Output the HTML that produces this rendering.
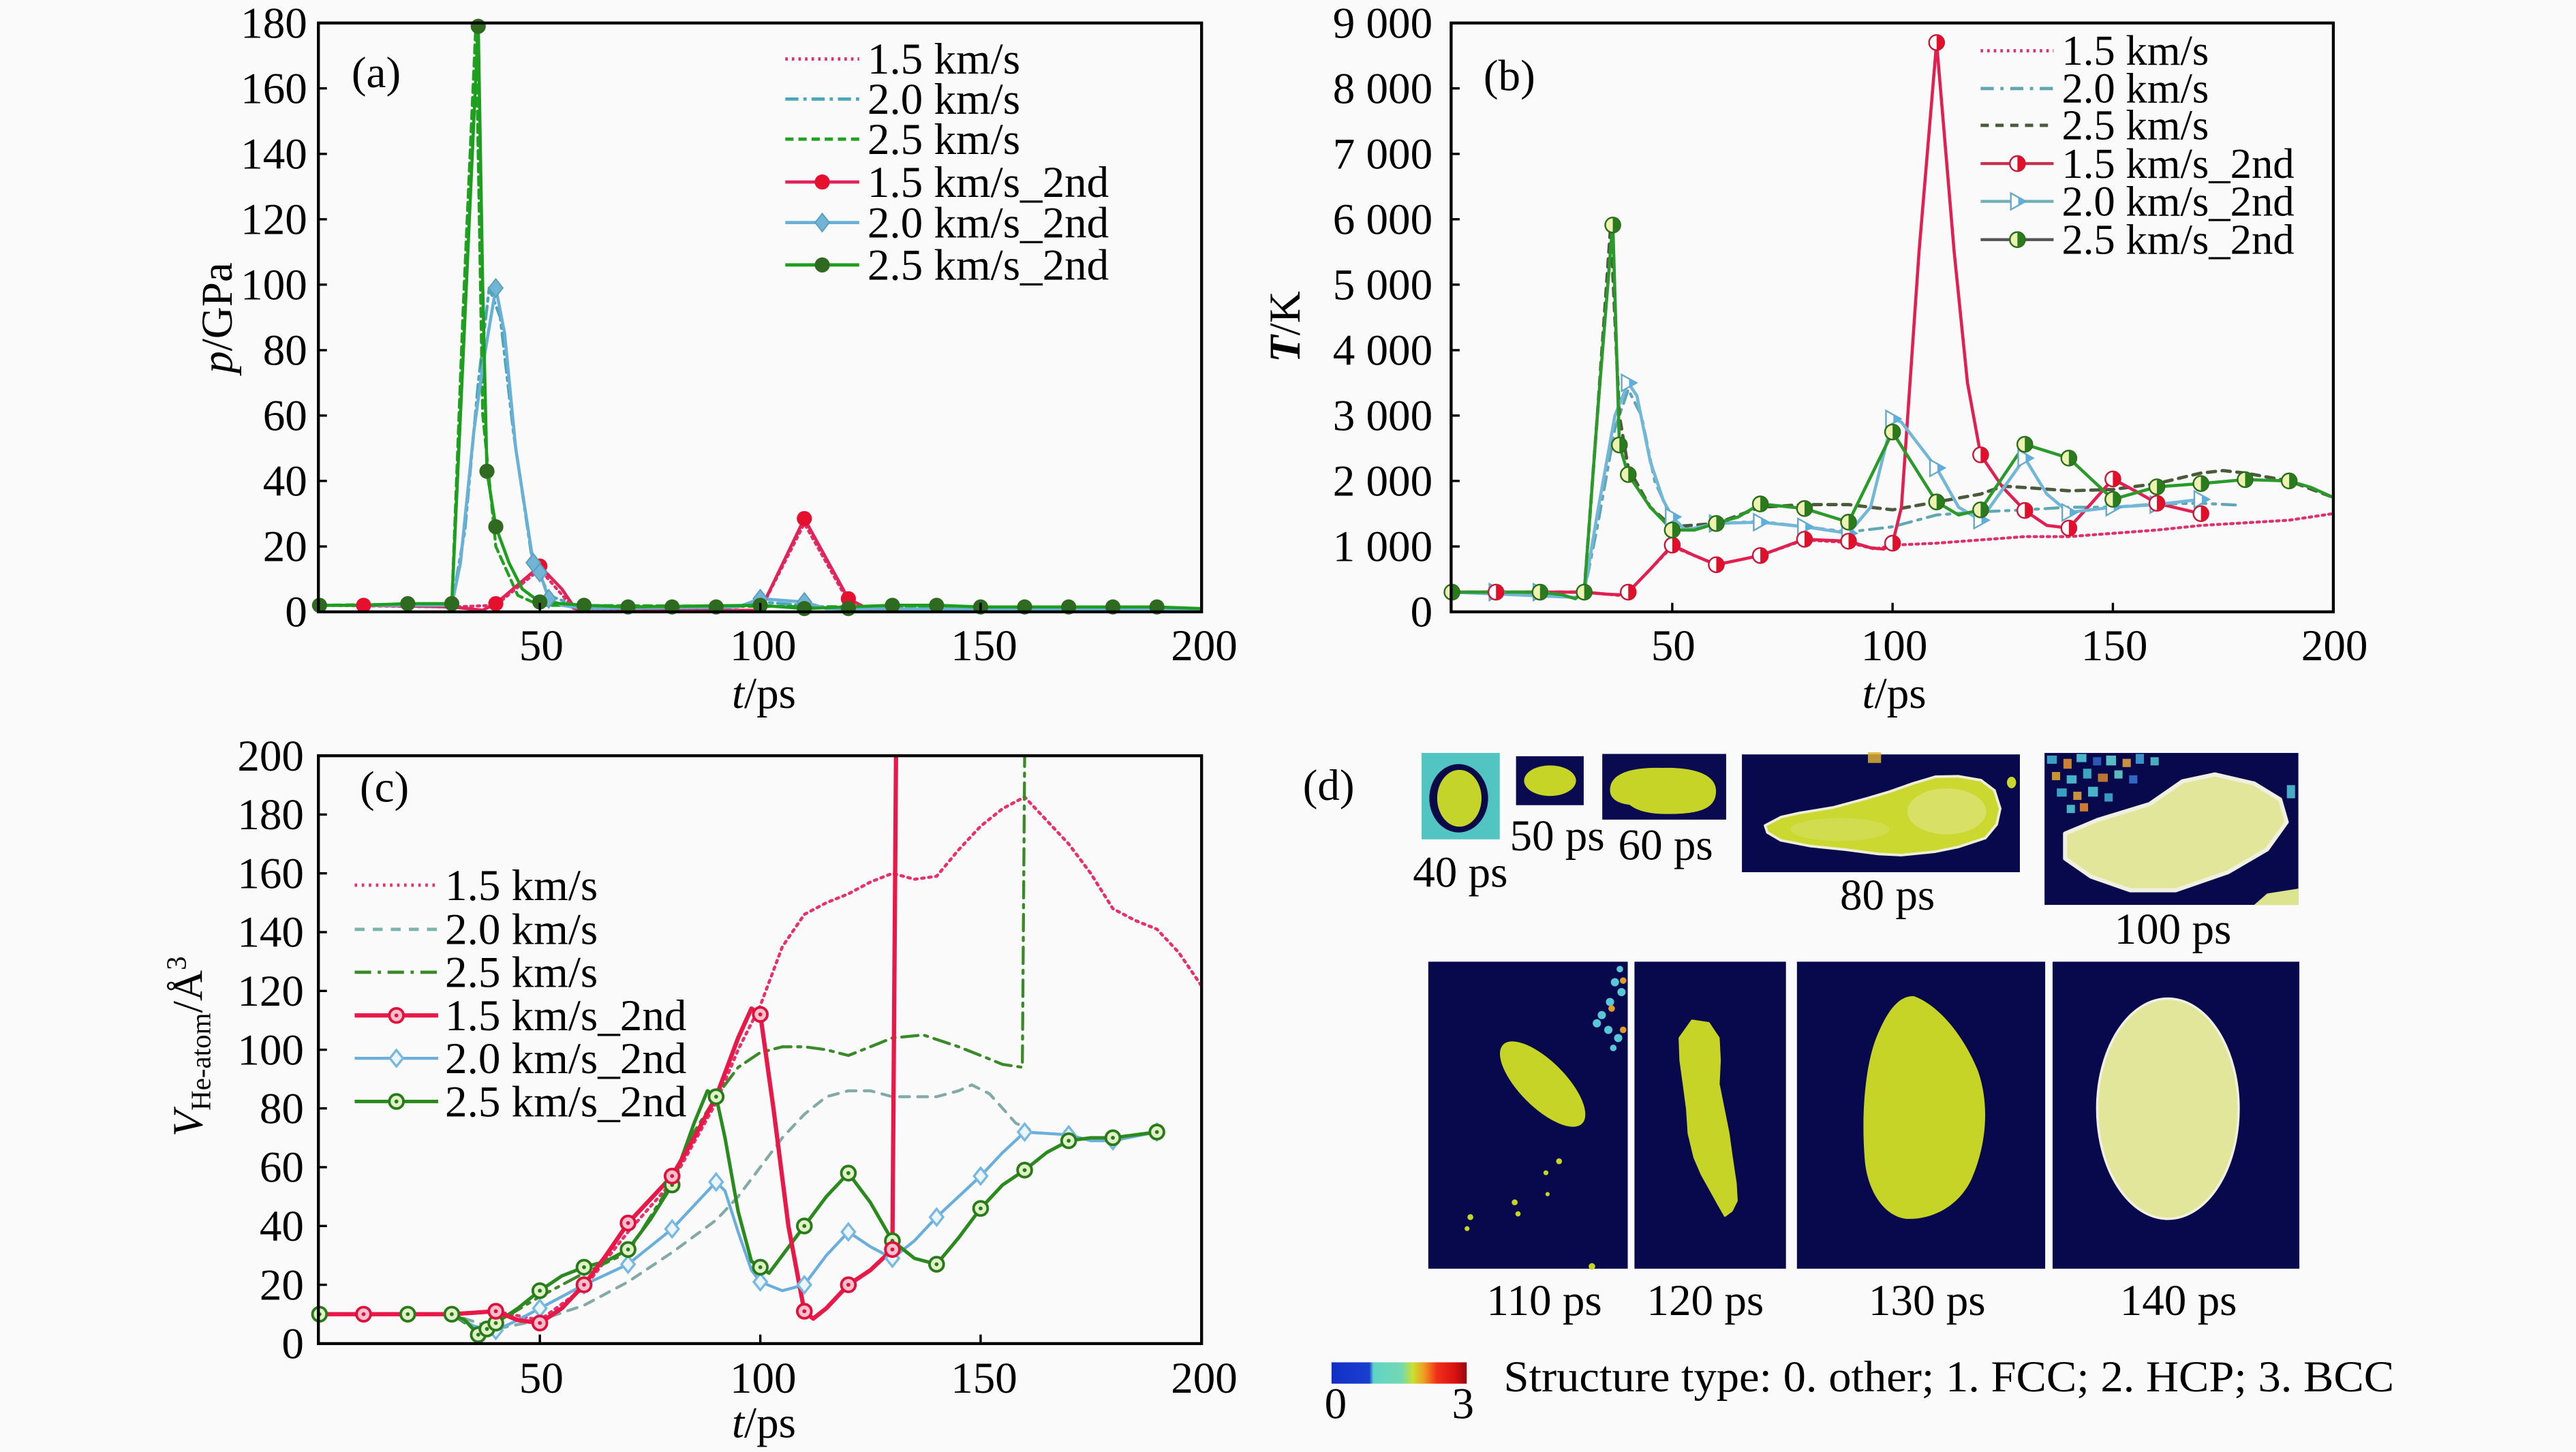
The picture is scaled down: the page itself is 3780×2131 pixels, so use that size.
<!DOCTYPE html>
<html><head><meta charset="utf-8"><style>
html,body{margin:0;padding:0;background:#fafafa;}
svg{display:block;}
text{font-family:"Liberation Serif",serif;font-size:27px;fill:#000;}
</style></head><body>
<svg xmlns="http://www.w3.org/2000/svg" width="3780" height="2131" viewBox="0 0 1568 884" preserveAspectRatio="none">
<defs>
<g id="maR"><circle r="4.6" fill="#e5102e"/></g>
<g id="maG"><circle r="4.6" fill="#2e6a1f"/></g>
<g id="maB"><path d="M0,-5.5 L4.3,0 L0,5.5 L-4.3,0Z" fill="#72b4d4" stroke="#5a9ec0" stroke-width="0.8"/></g>
<g id="mbR"><circle r="4.6" fill="#fff" stroke="#c81838" stroke-width="1"/><path d="M0,-4.6 A4.6,4.6 0 0 1 0,4.6Z" fill="#e0102a"/></g>
<g id="mbG"><circle r="4.6" fill="#eef2b0" stroke="#2a6a1a" stroke-width="1"/><path d="M0,-4.6 A4.6,4.6 0 0 1 0,4.6Z" fill="#2a7a1e"/></g>
<g id="mbB"><path d="M-4,-5 L5,0 L-4,5Z" fill="#fff" stroke="#6aa8c8" stroke-width="1"/><path d="M0.5,-2.5 L5,0 L0.5,2.5Z" fill="#5aaee0"/></g>
<g id="mcR"><circle r="4.3" fill="#f6c0cc" stroke="#e0103c" stroke-width="1.6"/><circle r="1.2" fill="#e0103c"/></g>
<g id="mcB"><path d="M0,-5 L4,0 L0,5 L-4,0Z" fill="#eaf6fc" stroke="#78b8e0" stroke-width="1.4"/></g>
<g id="mcG"><circle r="4.3" fill="#e0f2c8" stroke="#2a7a1a" stroke-width="1.6"/><circle r="1.2" fill="#2a7a1a"/></g>
<linearGradient id="cb" x1="0" x2="1" y1="0" y2="0">
<stop offset="0" stop-color="#1230c4"/><stop offset="0.28" stop-color="#1a40d0"/>
<stop offset="0.31" stop-color="#60d4c8"/><stop offset="0.52" stop-color="#74d8b0"/>
<stop offset="0.6" stop-color="#c8e030"/><stop offset="0.68" stop-color="#f0a020"/>
<stop offset="0.78" stop-color="#f03018"/><stop offset="0.92" stop-color="#d81010"/>
<stop offset="1" stop-color="#900810"/></linearGradient>
<clipPath id="ca"><rect x="193.8" y="14" width="537.6" height="358.5"/></clipPath>
<clipPath id="cbx"><rect x="883.3" y="14" width="537" height="358.5"/></clipPath>
<clipPath id="cc"><rect x="193.8" y="460.1" width="537.6" height="357.9"/></clipPath>
</defs>
<rect x="0" y="0" width="1568" height="884" fill="#fafafa"/>

<!-- ================= Panel (a) ================= -->
<g clip-path="url(#ca)" fill="none" stroke-linejoin="round" stroke-linecap="round">
<polyline points="194.5,368.5 275,369.5 301.8,368.5 328.6,346.6 350.1,371.5 462.8,371.5 489.6,318.7 516.4,366.5 529.8,372 731,372.5" stroke="#e0306a" stroke-width="1.8" stroke-dasharray="1.5,2.5"/>
<polyline points="194.5,368.5 275,368.5 283,322.7 291.1,233.1 297.8,175.3 304.5,193.2 312.5,263 323.3,336.6 334,362.5 355.5,370.5 440,370.5 462.8,366.5 489.6,368.5 516.4,371.5 731,371.5" stroke="#4aa6b8" stroke-width="1.8" stroke-dasharray="8,3,2,3"/>
<polyline points="194.5,368.5 275,367.5 281.7,193.2 289.7,14 293.8,252 301.8,332.7 315.2,362.5 328.6,368.5 731,370.5" stroke="#22a022" stroke-width="1.8" stroke-dasharray="5,3"/>
<polyline points="194.5,368.5 221.3,368.5 275,369.5 293.8,371.5 301.8,367.5 328.6,344.6 342,358.6 350.1,370.5 355.5,372.5 462.8,371.5 489.6,315.7 516.4,364.5 529.8,371.5 731,372.5" stroke="#e0245a" stroke-width="1.9"/>
<polyline points="194.5,368.5 275,368.5 280.3,342.6 288.4,262.9 293.8,223.1 301.8,175.3 307.2,203.2 313.9,272.9 324.6,342.6 328.6,348.6 334,364.5 342,368.5 355.5,370.5 449.3,369.5 462.8,364.5 489.6,366.5 503,370.5 731,371.5" stroke="#6ab0d6" stroke-width="1.9"/>
<polyline points="194.5,368.5 221.3,368.5 248.2,367.5 275,367.5 283,193.2 291.1,14 293.8,173.3 296.4,286.9 301.8,320.7 309.8,342.6 317.9,358.6 328.6,366.5 355.5,368.5 382.3,369.5 462.8,368.5 489.6,370.5 543.2,368.5 570.1,368.5 596.9,369.5 704.2,369.5 731,370.5" stroke="#1e9e1e" stroke-width="1.9"/>
</g>
<g>
<use href="#maR" x="221.3" y="368.5"/><use href="#maR" x="301.8" y="367.5"/><use href="#maR" x="328.6" y="344.6"/><use href="#maR" x="489.6" y="315.7"/><use href="#maR" x="516.4" y="364.5"/>
<use href="#maB" x="301.8" y="175.3"/><use href="#maB" x="324.6" y="342.6"/><use href="#maB" x="328.6" y="348.6"/><use href="#maB" x="334" y="364.5"/><use href="#maB" x="462.8" y="364.5"/><use href="#maB" x="489.6" y="366.5"/>
<use href="#maG" x="194.5" y="368.5"/><use href="#maG" x="248.2" y="367.5"/><use href="#maG" x="275" y="367.5"/><use href="#maG" x="291.1" y="16"/><use href="#maG" x="296.4" y="286.9"/><use href="#maG" x="301.8" y="320.7"/><use href="#maG" x="328.6" y="366.5"/><use href="#maG" x="355.5" y="368.5"/><use href="#maG" x="382.3" y="369.5"/><use href="#maG" x="409.1" y="369.5"/><use href="#maG" x="435.9" y="369.5"/><use href="#maG" x="462.8" y="368.5"/><use href="#maG" x="489.6" y="370.5"/><use href="#maG" x="516.4" y="370.5"/><use href="#maG" x="543.2" y="368.5"/><use href="#maG" x="570.1" y="368.5"/><use href="#maG" x="596.9" y="369.5"/><use href="#maG" x="623.7" y="369.5"/><use href="#maG" x="650.5" y="369.5"/><use href="#maG" x="677.4" y="369.5"/><use href="#maG" x="704.2" y="369.5"/>
</g>
<rect x="193.8" y="14" width="537.6" height="358.5" fill="none" stroke="#000" stroke-width="1.8"/>
<g stroke="#000" stroke-width="1.4">
<line x1="194" y1="332.7" x2="199" y2="332.7"/><line x1="194" y1="292.8" x2="199" y2="292.8"/><line x1="194" y1="253" x2="199" y2="253"/><line x1="194" y1="213.2" x2="199" y2="213.2"/><line x1="194" y1="173.3" x2="199" y2="173.3"/><line x1="194" y1="133.5" x2="199" y2="133.5"/><line x1="194" y1="93.7" x2="199" y2="93.7"/><line x1="194" y1="53.8" x2="199" y2="53.8"/>
<line x1="328.6" y1="372" x2="328.6" y2="367"/><line x1="462.8" y1="372" x2="462.8" y2="367"/><line x1="596.9" y1="372" x2="596.9" y2="367"/>
</g>
<g text-anchor="end">
<text x="187" y="381.5">0</text><text x="187" y="341.7">20</text><text x="187" y="301.8">40</text><text x="187" y="262">60</text><text x="187" y="222.2">80</text><text x="187" y="182.3">100</text><text x="187" y="142.5">120</text><text x="187" y="102.7">140</text><text x="187" y="62.8">160</text><text x="187" y="23">180</text>
</g>
<g text-anchor="middle">
<text x="329.5" y="402">50</text><text x="464.5" y="402">100</text><text x="599" y="402">150</text><text x="733" y="402">200</text>
<text x="465" y="431"><tspan font-style="italic">t</tspan>/ps</text>
</g>
<text transform="translate(141,193.5) rotate(-90)" text-anchor="middle"><tspan font-style="italic">p</tspan>/GPa</text>
<text x="214" y="53">(a)</text>
<!-- legend a -->
<g fill="none" stroke-linecap="butt">
<line x1="478" y1="35.9" x2="523" y2="35.9" stroke="#e0306a" stroke-width="2" stroke-dasharray="1.5,2.5"/>
<line x1="478" y1="60.3" x2="523" y2="60.3" stroke="#4aa6b8" stroke-width="2" stroke-dasharray="8,3,2,3"/>
<line x1="478" y1="84.7" x2="523" y2="84.7" stroke="#22a022" stroke-width="2" stroke-dasharray="5,3"/>
<line x1="478" y1="110.8" x2="523" y2="110.8" stroke="#e0245a" stroke-width="2"/>
<line x1="478" y1="135.5" x2="523" y2="135.5" stroke="#6ab0d6" stroke-width="2"/>
<line x1="478" y1="161.3" x2="523" y2="161.3" stroke="#1e9e1e" stroke-width="2"/>
</g>
<use href="#maR" x="500.5" y="110.8"/><use href="#maB" x="500.5" y="135.5"/><use href="#maG" x="500.5" y="161.3"/>
<text x="528" y="44.9">1.5 km/s</text>
<text x="528" y="69.3">2.0 km/s</text>
<text x="528" y="93.7">2.5 km/s</text>
<text x="528" y="119.8">1.5 km/s_2nd</text>
<text x="528" y="144.5">2.0 km/s_2nd</text>
<text x="528" y="170.3">2.5 km/s_2nd</text>

<!-- ================= Panel (b) ================= -->
<g clip-path="url(#cbx)" fill="none" stroke-linejoin="round" stroke-linecap="round">
<polyline points="883.8,360.5 964.3,360.5 985.7,362.5 991.1,360.5 1017.9,332.7 1044.7,343.8 1071.5,338.2 1098.4,328.7 1125.2,330.3 1141.3,334.3 1152,331.9 1178.8,330.7 1205.6,328.7 1232.5,326.7 1259.3,326.7 1286.1,324.7 1312.9,322.7 1339.7,319.9 1366.6,318.3 1393.4,316.7 1420.2,312.7" stroke="#e0306a" stroke-width="1.8" stroke-dasharray="1.5,2.5"/>
<polyline points="883.8,360.5 964.3,360.5 972.3,320.7 983,261 991.1,237.1 999.1,253 1007.2,292.8 1017.9,316.7 1031.3,322.7 1044.7,318.7 1071.5,317.5 1098.4,320.7 1125.2,323.9 1152,320.7 1178.8,313.5 1205.6,311.6 1232.5,310.4 1259.3,308.8 1286.1,308.8 1312.9,306.8 1339.7,306.4 1363.9,307.6" stroke="#62a6b4" stroke-width="1.8" stroke-dasharray="8,4,2,4"/>
<polyline points="883.8,360.5 964.3,360.5 972.3,253 980.4,137.5 985.7,253 991.1,284.9 1004.5,308.8 1017.9,320.7 1044.7,318.7 1071.5,308.8 1098.4,307.2 1125.2,307.2 1152,310.4 1178.8,305.6 1205.6,300.8 1219.1,296 1232.5,296.8 1259.3,298.8 1286.1,298 1312.9,294.4 1339.7,288 1353.2,286.5 1366.6,288 1393.4,292.8 1420.2,302.8" stroke="#4c5a3c" stroke-width="2" stroke-dasharray="5,4"/>
<polyline points="883.8,360.5 964.3,360.5 977.7,361.7 985.7,362.1 991.1,360.5 1004.5,346.6 1017.9,331.9 1031.3,338.2 1044.7,343.8 1071.5,338.2 1098.4,328.3 1125.2,329.5 1138.6,333.5 1146.6,334.3 1152,330.7 1157.4,308.8 1168.1,153.4 1178.8,25.9 1189.5,153.4 1197.6,233.1 1205.6,276.9 1219.1,296.8 1232.5,310.8 1245.9,319.9 1259.3,321.5 1272.7,306.8 1286.1,291.6 1299.5,298.8 1312.9,306.4 1339.7,312.7" stroke="#e02050" stroke-width="1.9"/>
<polyline points="883.8,360.5 958.9,363.7 964.3,360.5 972.3,312.7 983,253 991.1,233.1 996.4,241 1004.5,280.9 1012.5,304.8 1017.9,314.7 1025.9,322.7 1044.7,318.7 1071.5,317.9 1098.4,320.7 1125.2,324.7 1138.6,308.8 1152,255 1157.4,257 1178.8,284.9 1192.2,308.8 1205.6,316.7 1232.5,278.9 1245.9,300.8 1259.3,312 1286.1,308.8 1312.9,307.2 1339.7,304" stroke="#72b6d8" stroke-width="1.9"/>
<polyline points="883.8,360.5 910.6,360.5 937.4,360.5 950.9,362.1 958.9,364.5 964.3,360.5 972.3,253 981.7,135.5 985.7,270.9 991.1,288.9 1004.5,308.8 1017.9,322.7 1031.3,322.7 1044.7,318.7 1058.1,314.7 1071.5,306.8 1098.4,309.6 1125.2,317.9 1152,263 1178.8,305.6 1192.2,313.5 1205.6,310.4 1232.5,270.5 1259.3,278.9 1286.1,304 1312.9,296.4 1339.7,294.4 1366.6,292 1393.4,292.8 1406.8,296.8 1420.2,302.8" stroke="#2a9a2a" stroke-width="1.9"/>
</g>
<g>
<use href="#mbB" x="910.6" y="360.5"/><use href="#mbB" x="937.4" y="360.5"/><use href="#mbB" x="991.1" y="233.1"/><use href="#mbB" x="1017.9" y="314.7"/><use href="#mbB" x="1044.7" y="318.7"/><use href="#mbB" x="1071.5" y="317.9"/><use href="#mbB" x="1098.4" y="320.7"/><use href="#mbB" x="1125.2" y="324.7"/><use href="#mbB" x="1152" y="255"/><use href="#mbB" x="1178.8" y="284.9"/><use href="#mbB" x="1205.6" y="316.7"/><use href="#mbB" x="1232.5" y="278.9"/><use href="#mbB" x="1259.3" y="312"/><use href="#mbB" x="1286.1" y="308.8"/><use href="#mbB" x="1312.9" y="307.2"/><use href="#mbB" x="1339.7" y="304"/>
<use href="#mbR" x="910.6" y="360.5"/><use href="#mbR" x="991.1" y="360.5"/><use href="#mbR" x="1017.9" y="331.9"/><use href="#mbR" x="1044.7" y="343.8"/><use href="#mbR" x="1071.5" y="338.2"/><use href="#mbR" x="1098.4" y="328.3"/><use href="#mbR" x="1125.2" y="329.5"/><use href="#mbR" x="1152" y="330.7"/><use href="#mbR" x="1178.8" y="25.9"/><use href="#mbR" x="1205.6" y="276.9"/><use href="#mbR" x="1232.5" y="310.8"/><use href="#mbR" x="1259.3" y="321.5"/><use href="#mbR" x="1286.1" y="291.6"/><use href="#mbR" x="1312.9" y="306.4"/><use href="#mbR" x="1339.7" y="312.7"/>
<use href="#mbG" x="883.8" y="360.5"/><use href="#mbG" x="937.4" y="360.5"/><use href="#mbG" x="964.3" y="360.5"/><use href="#mbG" x="981.7" y="137"/><use href="#mbG" x="985.7" y="270.9"/><use href="#mbG" x="991.1" y="288.9"/><use href="#mbG" x="1017.9" y="322.7"/><use href="#mbG" x="1044.7" y="318.7"/><use href="#mbG" x="1071.5" y="306.8"/><use href="#mbG" x="1098.4" y="309.6"/><use href="#mbG" x="1125.2" y="317.9"/><use href="#mbG" x="1152" y="263"/><use href="#mbG" x="1178.8" y="305.6"/><use href="#mbG" x="1205.6" y="310.4"/><use href="#mbG" x="1232.5" y="270.5"/><use href="#mbG" x="1259.3" y="278.9"/><use href="#mbG" x="1286.1" y="304"/><use href="#mbG" x="1312.9" y="296.4"/><use href="#mbG" x="1339.7" y="294.4"/><use href="#mbG" x="1366.6" y="292"/><use href="#mbG" x="1393.4" y="292.8"/>
</g>
<rect x="883.3" y="14" width="537" height="358.5" fill="none" stroke="#000" stroke-width="1.8"/>
<g stroke="#000" stroke-width="1.4">
<line x1="883.5" y1="332.7" x2="888.5" y2="332.7"/><line x1="883.5" y1="292.8" x2="888.5" y2="292.8"/><line x1="883.5" y1="253" x2="888.5" y2="253"/><line x1="883.5" y1="213.2" x2="888.5" y2="213.2"/><line x1="883.5" y1="173.3" x2="888.5" y2="173.3"/><line x1="883.5" y1="133.5" x2="888.5" y2="133.5"/><line x1="883.5" y1="93.7" x2="888.5" y2="93.7"/><line x1="883.5" y1="53.8" x2="888.5" y2="53.8"/>
<line x1="1017.9" y1="372" x2="1017.9" y2="367"/><line x1="1152" y1="372" x2="1152" y2="367"/><line x1="1286.1" y1="372" x2="1286.1" y2="367"/>
</g>
<g text-anchor="end">
<text x="872" y="381.5">0</text><text x="872" y="341.7">1 000</text><text x="872" y="301.8">2 000</text><text x="872" y="262">3 000</text><text x="872" y="222.2">4 000</text><text x="872" y="182.3">5 000</text><text x="872" y="142.5">6 000</text><text x="872" y="102.7">7 000</text><text x="872" y="62.8">8 000</text><text x="872" y="23">9 000</text>
</g>
<g text-anchor="middle">
<text x="1018.5" y="402">50</text><text x="1153" y="402">100</text><text x="1287" y="402">150</text><text x="1421" y="402">200</text>
<text x="1153" y="431"><tspan font-style="italic">t</tspan>/ps</text>
</g>
<text transform="translate(791,199) rotate(-90)" text-anchor="middle"><tspan font-style="italic" font-weight="bold">T</tspan>/K</text>
<text x="903" y="55">(b)</text>
<!-- legend b -->
<g fill="none">
<line x1="1205.6" y1="30.9" x2="1250" y2="30.9" stroke="#e0306a" stroke-width="2" stroke-dasharray="1.5,2.5"/>
<line x1="1205.6" y1="53.9" x2="1250" y2="53.9" stroke="#62a6b4" stroke-width="2" stroke-dasharray="8,4,2,4"/>
<line x1="1205.6" y1="76.3" x2="1250" y2="76.3" stroke="#4c5a3c" stroke-width="2" stroke-dasharray="5,4"/>
<line x1="1205.6" y1="99.6" x2="1250" y2="99.6" stroke="#c83050" stroke-width="1.8"/>
<line x1="1205.6" y1="122.6" x2="1250" y2="122.6" stroke="#72b0b8" stroke-width="1.8"/>
<line x1="1205.6" y1="145.9" x2="1250" y2="145.9" stroke="#555" stroke-width="1.8"/>
</g>
<use href="#mbR" x="1228" y="99.6"/><use href="#mbB" x="1228" y="122.6"/><use href="#mbG" x="1228" y="145.9"/>
<g>
<text x="1255" y="39.5" style="font-size:26px">1.5 km/s</text>
<text x="1255" y="62.5" style="font-size:26px">2.0 km/s</text>
<text x="1255" y="84.9" style="font-size:26px">2.5 km/s</text>
<text x="1255" y="108.2" style="font-size:26px">1.5 km/s_2nd</text>
<text x="1255" y="131.2" style="font-size:26px">2.0 km/s_2nd</text>
<text x="1255" y="154.5" style="font-size:26px">2.5 km/s_2nd</text>
</g>

<!-- ================= Panel (c) ================= -->
<g clip-path="url(#cc)" fill="none" stroke-linejoin="round" stroke-linecap="round">
<polyline points="194.5,800.1 275,800.1 301.8,798.3 328.6,803.7 355.5,784 382.3,750 409.1,719.6 435.9,671.3 449.3,639.1 462.8,612.2 476.2,576.4 489.6,556.7 503,549.6 516.4,544.2 529.8,537 543.2,531.7 556.6,535.3 570.1,533.5 583.5,517.4 596.9,503 610.3,492.3 623.7,485.2 637.1,499.5 650.5,513.8 663.9,531.7 677.4,553.2 690.8,560.3 704.2,565.7 717.6,580 731,599.7" stroke="#e8306a" stroke-width="1.9" stroke-dasharray="1.5,2.8"/>
<polyline points="194.5,800.1 275,800.1 301.8,809.1 328.6,803.7 355.5,794.7 382.3,780.4 409.1,762.5 435.9,742.8 449.3,728.5 462.8,710.6 476.2,692.7 489.6,678.4 503,667.7 516.4,664.1 529.8,664.1 543.2,667.7 570.1,667.7 583.5,664.1 591.5,660.5 602.3,665.9 610.3,674.8 618.3,683.8 626.4,687.4" stroke="#84aaa8" stroke-width="1.8" stroke-dasharray="6,5"/>
<polyline points="194.5,800.1 275,800.1 291.1,810.8 301.8,805.5 328.6,789.4 355.5,775.1 382.3,762.5 409.1,719.6 422.5,689.2 435.9,667.7 449.3,649.8 462.8,640.8 476.2,637.3 489.6,637.3 503,639.1 516.4,642.6 529.8,637.3 543.2,631.9 562,630.1 583.5,637.3 596.9,642.6 610.3,648 622.3,649.8 623.7,460.1" stroke="#3a8a2a" stroke-width="1.8" stroke-dasharray="10,4,2,4"/>
<polyline points="194.5,800.1 275,800.1 288.4,807.3 301.8,810 315.2,803.7 328.6,796.5 342,789.4 355.5,782.2 382.3,769.7 409.1,748.2 422.5,733.9 435.9,719.6 441.3,725 449.3,750 457.4,773.3 462.8,780.4 476.2,785.8 489.6,782.2 503,764.3 516.4,750 529.8,759 543.2,766.1 556.6,755.4 570.1,741 596.9,716 610.3,701.7 623.7,689.2 650.5,690.9 663.9,694.5 677.4,694.5 704.2,689.2" stroke="#6aaedc" stroke-width="1.8"/>
<polyline points="194.5,800.1 275,800.1 283,803.7 291.1,812.6 296.4,809.1 301.8,805.5 315.2,796.5 328.6,785.8 342,776.8 355.5,771.5 368.9,767.9 382.3,760.7 395.7,742.8 409.1,721.4 422.5,683.8 430.6,664.1 435.9,667.7 441.3,692.7 449.3,737.5 457.4,767.9 462.8,771.5 468.1,775.1 476.2,764.3 489.6,746.4 503,728.5 516.4,714.2 529.8,732.1 543.2,755.4 556.6,766.1 570.1,769.7 583.5,753.6 596.9,735.7 610.3,721.4 623.7,712.4 637.1,701.7 650.5,694.5 663.9,692.7 677.4,692.7 704.2,689.2" stroke="#2a8a1e" stroke-width="2.1"/>
<polyline points="194.5,800.1 275,800.1 288.4,799.2 301.8,798.3 315.2,803.7 328.6,805.5 342,796.5 355.5,782.2 368.9,764.3 382.3,744.6 395.7,730.3 409.1,716 422.5,692.7 435.9,667.7 449.3,631.9 457.4,614 462.8,617.6 470.8,674.8 479.9,746.4 489.6,798.3 495,802.8 503,796.5 516.4,782.2 529.8,773.3 543.2,760.7 545.4,460.1" stroke="#e81848" stroke-width="2.6"/>
</g>
<g>
<use href="#mcB" x="301.8" y="810"/><use href="#mcB" x="328.6" y="796.5"/><use href="#mcB" x="355.5" y="782.2"/><use href="#mcB" x="382.3" y="769.7"/><use href="#mcB" x="409.1" y="748.2"/><use href="#mcB" x="435.9" y="719.6"/><use href="#mcB" x="462.8" y="780.4"/><use href="#mcB" x="489.6" y="782.2"/><use href="#mcB" x="516.4" y="750"/><use href="#mcB" x="543.2" y="766.1"/><use href="#mcB" x="570.1" y="741"/><use href="#mcB" x="596.9" y="716"/><use href="#mcB" x="623.7" y="689.2"/><use href="#mcB" x="650.5" y="690.9"/><use href="#mcB" x="677.4" y="694.5"/><use href="#mcB" x="704.2" y="689.2"/>
<use href="#mcG" x="194.5" y="800.1"/><use href="#mcG" x="248.2" y="800.1"/><use href="#mcG" x="275" y="800.1"/><use href="#mcG" x="291.1" y="812.6"/><use href="#mcG" x="296.4" y="809.1"/><use href="#mcG" x="301.8" y="805.5"/><use href="#mcG" x="328.6" y="785.8"/><use href="#mcG" x="355.5" y="771.5"/><use href="#mcG" x="382.3" y="760.7"/><use href="#mcG" x="409.1" y="721.4"/><use href="#mcG" x="435.9" y="667.7"/><use href="#mcG" x="462.8" y="771.5"/><use href="#mcG" x="489.6" y="746.4"/><use href="#mcG" x="516.4" y="714.2"/><use href="#mcG" x="543.2" y="755.4"/><use href="#mcG" x="570.1" y="769.7"/><use href="#mcG" x="596.9" y="735.7"/><use href="#mcG" x="623.7" y="712.4"/><use href="#mcG" x="650.5" y="694.5"/><use href="#mcG" x="677.4" y="692.7"/><use href="#mcG" x="704.2" y="689.2"/>
<use href="#mcR" x="221.3" y="800.1"/><use href="#mcR" x="301.8" y="798.3"/><use href="#mcR" x="328.6" y="805.5"/><use href="#mcR" x="355.5" y="782.2"/><use href="#mcR" x="382.3" y="744.6"/><use href="#mcR" x="409.1" y="716"/><use href="#mcR" x="462.8" y="617.6"/><use href="#mcR" x="489.6" y="798.3"/><use href="#mcR" x="516.4" y="782.2"/><use href="#mcR" x="543.2" y="760.7"/>
</g>
<rect x="193.8" y="460.1" width="537.6" height="357.9" fill="none" stroke="#000" stroke-width="1.8"/>
<g stroke="#000" stroke-width="1.4">
<line x1="194" y1="782.2" x2="199" y2="782.2"/><line x1="194" y1="746.4" x2="199" y2="746.4"/><line x1="194" y1="710.6" x2="199" y2="710.6"/><line x1="194" y1="674.8" x2="199" y2="674.8"/><line x1="194" y1="639.1" x2="199" y2="639.1"/><line x1="194" y1="603.3" x2="199" y2="603.3"/><line x1="194" y1="567.5" x2="199" y2="567.5"/><line x1="194" y1="531.7" x2="199" y2="531.7"/><line x1="194" y1="495.9" x2="199" y2="495.9"/>
<line x1="328.6" y1="817.5" x2="328.6" y2="812.5"/><line x1="462.8" y1="817.5" x2="462.8" y2="812.5"/><line x1="596.9" y1="817.5" x2="596.9" y2="812.5"/>
</g>
<g text-anchor="end">
<text x="185" y="827">0</text><text x="185" y="791.2">20</text><text x="185" y="755.4">40</text><text x="185" y="719.6">60</text><text x="185" y="683.8">80</text><text x="185" y="648.1">100</text><text x="185" y="612.3">120</text><text x="185" y="576.5">140</text><text x="185" y="540.7">160</text><text x="185" y="504.9">180</text><text x="185" y="469.1">200</text>
</g>
<g text-anchor="middle">
<text x="329.5" y="848">50</text><text x="464.5" y="848">100</text><text x="599" y="848">150</text><text x="733" y="848">200</text>
<text x="465" y="875"><tspan font-style="italic">t</tspan>/ps</text>
</g>
<text transform="translate(123,692) rotate(-90)" style="font-size:26px"><tspan font-style="italic">V</tspan><tspan style="font-size:17px" dy="5">He-atom</tspan><tspan dy="-5">/Å</tspan><tspan style="font-size:17px" dy="-10">3</tspan></text>
<text x="219" y="488">(c)</text>
<!-- legend c -->
<g fill="none">
<line x1="215.9" y1="538.9" x2="266.7" y2="538.9" stroke="#e8306a" stroke-width="2" stroke-dasharray="1.5,2.8"/>
<line x1="215.9" y1="565.8" x2="266.7" y2="565.8" stroke="#7ab4ac" stroke-width="2" stroke-dasharray="6,5"/>
<line x1="215.9" y1="591.9" x2="266.7" y2="591.9" stroke="#3a8a2a" stroke-width="2" stroke-dasharray="10,4,2,4"/>
<line x1="215.9" y1="618.2" x2="266.7" y2="618.2" stroke="#e81848" stroke-width="2.6"/>
<line x1="215.9" y1="644.3" x2="266.7" y2="644.3" stroke="#6aaedc" stroke-width="1.8"/>
<line x1="215.9" y1="670.6" x2="266.7" y2="670.6" stroke="#2a8a1e" stroke-width="2.1"/>
</g>
<use href="#mcR" x="241.3" y="618.2"/><use href="#mcB" x="241.3" y="644.3"/><use href="#mcG" x="241.3" y="670.6"/>
<text x="270.9" y="547.9">1.5 km/s</text>
<text x="270.9" y="574.8">2.0 km/s</text>
<text x="270.9" y="600.9">2.5 km/s</text>
<text x="270.9" y="627.2">1.5 km/s_2nd</text>
<text x="270.9" y="653.3">2.0 km/s_2nd</text>
<text x="270.9" y="679.6">2.5 km/s_2nd</text>

<!-- ================= Panel (d) ================= -->
<text x="793" y="487">(d)</text>
<!-- 40 ps -->
<rect x="865.3" y="458.4" width="47.6" height="52.6" fill="#52c4c2"/>
<ellipse cx="887.9" cy="486" rx="17.9" ry="20.8" fill="#0a0a48"/>
<ellipse cx="888.3" cy="486" rx="13.5" ry="17.3" fill="#c4d42a"/>
<!-- 50 ps -->
<rect x="922.8" y="460.4" width="41.2" height="29.8" fill="#0a0a50"/>
<ellipse cx="943.5" cy="475.3" rx="15.8" ry="9.3" fill="#c6d428"/>
<!-- 60 ps -->
<rect x="975.3" y="459" width="75.4" height="40" fill="#0a0a50"/>
<path d="M980,481 C980,470 995,467 1012,467.5 C1030,467 1044,471 1044.5,481 C1045,492 1035,495 1020,495.5 C1005,496 997,494 992,490 C984,489 980,486 980,481Z" fill="#c6d428"/>
<!-- 80 ps -->
<rect x="1060.3" y="459.3" width="169.2" height="71.7" fill="#08084c"/>
<polygon points="1074.4,502.6 1084,497.5 1095.1,495 1115.8,491.6 1136.6,486 1150.4,481.9 1164.3,477 1178.1,472.9 1191.9,472.6 1205.8,475 1214,481.2 1217.5,492.3 1215.4,501.9 1208.5,510.2 1191.8,515.7 1178,518.5 1157.3,520.6 1143.5,519.9 1122.8,517.2 1102,515.1 1084,511.6 1075.8,506.8" fill="#cad830" stroke="#eeeed8" stroke-width="1.6" stroke-linejoin="round"/>
<ellipse cx="1185" cy="494" rx="24" ry="14" fill="#e8eca8" opacity="0.45"/>
<ellipse cx="1120" cy="505" rx="30" ry="7" fill="#e8eca8" opacity="0.25"/>
<rect x="1137" y="458" width="8" height="6.5" fill="#d8b030" opacity="0.85"/>
<ellipse cx="1224.4" cy="476.4" rx="2.8" ry="3.5" fill="#c8d62e"/>
<!-- 100 ps -->
<rect x="1244.5" y="458.4" width="154.5" height="92.5" fill="#08084c"/>
<g opacity="0.9">
<rect x="1246" y="460" width="6" height="5" fill="#40b0d0"/><rect x="1256" y="462" width="5" height="6" fill="#e09030"/><rect x="1264" y="459" width="6" height="5" fill="#50c8d8"/><rect x="1274" y="461" width="5" height="5" fill="#3060c0"/><rect x="1282" y="460" width="6" height="6" fill="#60d0d0"/><rect x="1292" y="462" width="5" height="5" fill="#e0a040"/><rect x="1300" y="459" width="5" height="6" fill="#40a0d8"/><rect x="1309" y="461" width="5" height="5" fill="#50c0c8"/>
<rect x="1249" y="470" width="5" height="5" fill="#e0a030"/><rect x="1258" y="472" width="6" height="5" fill="#50c4d4"/><rect x="1268" y="468" width="5" height="6" fill="#40b8d0"/><rect x="1277" y="471" width="6" height="5" fill="#d08030"/><rect x="1287" y="469" width="5" height="5" fill="#60d0c8"/><rect x="1296" y="472" width="5" height="5" fill="#3a70d0"/>
<rect x="1252" y="480" width="6" height="5" fill="#40b0d0"/><rect x="1262" y="482" width="5" height="5" fill="#e0a040"/><rect x="1271" y="479" width="6" height="6" fill="#50c8d8"/><rect x="1281" y="483" width="5" height="5" fill="#40a8d0"/>
<rect x="1258" y="490" width="5" height="5" fill="#50c4d0"/><rect x="1266" y="489" width="5" height="5" fill="#e08a30"/><rect x="1392" y="478" width="5" height="8" fill="#50c0d0"/>
</g>
<polygon points="1257,507.5 1276.8,499.2 1308.5,489.5 1328.4,475.7 1348.2,471.5 1372,477 1387.9,486.7 1391.9,500.5 1380,517.1 1356.2,531 1324.4,542 1296.6,542 1272.8,533.7 1257,522.7" fill="#e2e69a" stroke="#f0f0e0" stroke-width="2.5" stroke-linejoin="round"/>
<polygon points="1372,551 1380,544 1399,541 1399,551" fill="#dde490"/>
<!-- bottom row -->
<rect x="869.4" y="585.5" width="121.4" height="186.9" fill="#08084c"/>
<ellipse cx="939" cy="660" rx="34" ry="14" transform="rotate(45 939 660)" fill="#c6d428"/>
<g fill="#58c8d8">
<circle cx="986" cy="590" r="2"/><circle cx="983" cy="598" r="2.5"/><circle cx="987" cy="604" r="2.5"/><circle cx="980" cy="610" r="2.5"/><circle cx="975" cy="618" r="2.5"/><circle cx="972" cy="623" r="2.5"/><circle cx="979" cy="627" r="2.5"/><circle cx="985" cy="632" r="2.5"/><circle cx="982" cy="638" r="2"/>
</g>
<g fill="#e09a30"><circle cx="988" cy="597" r="2"/><circle cx="981" cy="614" r="2"/><circle cx="988" cy="627" r="2"/></g>
<g fill="#c6d428"><circle cx="949" cy="707" r="1.8"/><circle cx="941" cy="714" r="1.5"/><circle cx="942" cy="727" r="1.3"/><circle cx="922" cy="732" r="1.8"/><circle cx="924" cy="739" r="1.6"/><circle cx="895" cy="741" r="1.8"/><circle cx="893" cy="748" r="1.5"/><circle cx="969" cy="771" r="2"/></g>
<rect x="994.9" y="585.5" width="92.2" height="186.9" fill="#08084c"/>
<polygon points="1030,621.5 1040,623 1046,632 1046.7,645.5 1046,660 1049,675 1052,690 1054,704.6 1056.4,720.6 1057,731 1054,737 1050,740 1046,733 1041,724 1036,715 1031.5,704.6 1028,690 1027,675 1025,660 1023,645.5 1022.5,632" fill="#c6d428" stroke="#c6d428" stroke-width="1.5" stroke-linejoin="round"/>
<rect x="1093.8" y="585.5" width="151.1" height="186.9" fill="#08084c"/>
<path d="M1165,606.5 C1180,612 1195,630 1204,652 C1212,675 1208,700 1200,718 C1192,735 1175,743 1160,742 C1145,740 1136,722 1135,705 C1133,680 1135,650 1142,632 C1148,617 1155,606 1165,606.5Z" fill="#c6d428"/>
<rect x="1249.4" y="585.5" width="150.2" height="186.9" fill="#08084c"/>
<ellipse cx="1319.6" cy="675" rx="43" ry="67" fill="#e2e69a" stroke="#f0f0e0" stroke-width="1.5"/>
<!-- labels -->
<text x="860" y="540">40 ps</text>
<text x="919" y="517.8">50 ps</text>
<text x="985" y="523.4">60 ps</text>
<text x="1120" y="553.8">80 ps</text>
<text x="1287" y="574.5">100 ps</text>
<g text-anchor="middle">
<text x="940" y="800.6">110 ps</text>
<text x="1038" y="800.6">120 ps</text>
<text x="1173" y="800.6">130 ps</text>
<text x="1326" y="800.6">140 ps</text>
<text x="813" y="863.5">0</text>
<text x="890.5" y="863.5">3</text>
</g>
<rect x="810.5" y="829.4" width="82.3" height="13" fill="url(#cb)"/>
<text x="915.3" y="847" textLength="542" lengthAdjust="spacingAndGlyphs">Structure type: 0. other; 1. FCC; 2. HCP; 3. BCC</text>
</svg>
</body></html>
